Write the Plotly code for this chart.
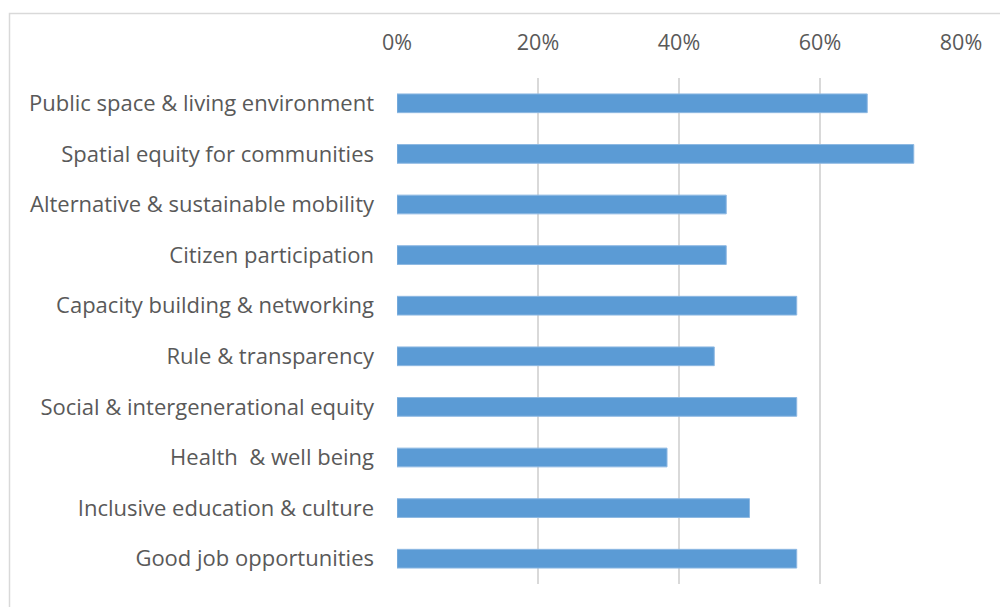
import plotly.graph_objects as go

# Share of respondents naming each priority
categories = [
    "Public space & living environment",
    "Spatial equity for communities",
    "Alternative & sustainable mobility",
    "Citizen participation",
    "Capacity building & networking",
    "Rule & transparency",
    "Social & intergenerational equity",
    "Health  & well being",
    "Inclusive education & culture",
    "Good job opportunities",
]
shares = [0.667, 0.733, 0.467, 0.467, 0.567, 0.450, 0.567, 0.383, 0.500, 0.567]

x_ticks = [0, 0.2, 0.4, 0.6, 0.8]
x_tick_labels = ["0%", "20%", "40%", "60%", "80%"]

BAR = "#5B9BD5"
GRID = "#D9D9D9"
TEXT = "#595959"
FONT = "Open Sans"

W, H = 1000, 607
ML, MR, MT, MB = 397, 39, 78, 23
pw, ph = W - ML - MR, H - MT - MB

fig = go.Figure(
    go.Bar(
        x=shares,
        y=categories,
        orientation="h",
        marker=dict(color=BAR, line=dict(color="#8DB8E2", width=1)),
        hoverinfo="x+y",
    )
)

fig.update_layout(
    width=W,
    height=H,
    margin=dict(l=ML, r=MR, t=MT, b=MB),
    paper_bgcolor="white",
    plot_bgcolor="white",
    bargap=0.63,
    showlegend=False,
    font=dict(family=FONT, size=22, color=TEXT),
    xaxis=dict(
        side="top",
        range=[0, 0.8],
        tickvals=x_ticks,
        ticktext=x_tick_labels,
        showgrid=True,
        gridcolor=GRID,
        gridwidth=2,
        zeroline=False,
        showline=False,
        ticks="",
        ticklabelstandoff=23,
        tickfont=dict(family=FONT, size=21.5, color=TEXT),
        fixedrange=True,
    ),
    yaxis=dict(
        autorange="reversed",
        showgrid=False,
        zeroline=False,
        showline=False,
        ticks="",
        ticklabelstandoff=22,
        tickfont=dict(family=FONT, size=22, color=TEXT),
        fixedrange=True,
    ),
    shapes=[
        # chart frame
        dict(
            type="rect",
            xref="paper",
            yref="paper",
            x0=(9.5 - ML) / pw,
            x1=(W + 20 - ML) / pw,
            y0=(H - MB - (H + 20)) / ph,
            y1=(H - MB - 13.5) / ph,
            line=dict(color=GRID, width=1.5),
            fillcolor="rgba(0,0,0,0)",
            layer="below",
        )
    ],
)

fig.write_html("out.html", config={"displayModeBar": False})
